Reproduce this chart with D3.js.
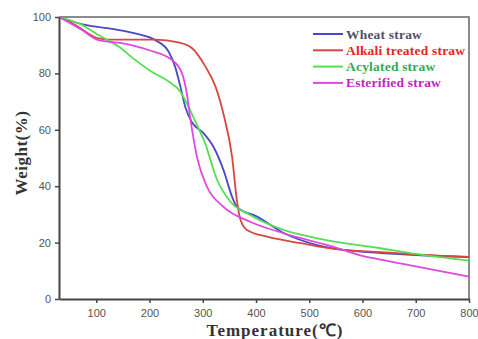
<!DOCTYPE html>
<html>
<head>
<meta charset="utf-8">
<script src="https://cdn.jsdelivr.net/npm/d3@7"></script>
<style>
  body { margin: 0; background: #fff; }
  svg { display: block; }
</style>
</head>
<body>
<div id="chart"></div>
<script>
var seriesNames = ["Wheat straw", "Alkali treated straw", "Acylated straw", "Esterified straw"];
var lineColors = ["#4a48c8", "#d8473f", "#52e052", "#e048e0"];
var textColors = ["#4f4f6f", "#ee2222", "#2faa55", "#c424c4"];

var xTicks = [100, 200, 300, 400, 500, 600, 700, 800];
var yTicks = [0, 20, 40, 60, 80, 100];

// [temperature, weight]
var wheat = [[30,100],[79,97.2],[130,95.8],[173,94.2],[211,91.8],[236,87.7],[248,82.4],[258,75.3],[267,68.2],
  [280,62.6],[301,58.9],[320,54],[339,45.7],[355,36.3],[364,32.7],[402,29.2],[452,23.4],[515,19.1],
  [596,16.8],[634,16.3],[700,15.6],[800,14.9]];
var alkali = [[30,100],[60,97.2],[104,92.4],[122,92],[211,92],[254,91],[280,88.9],[305,82.4],[324,75.3],
  [339,65.5],[355,50.5],[364,35.1],[371,28],[383,24.5],[421,22.1],[484,19.8],[553,17.6],[634,16.6],
  [700,15.8],[800,14.9]];
var acylated = [[30,100],[73,97.2],[104,93.6],[142,89.5],[173,84.8],[204,80.6],[236,77.1],[258,73.5],
  [273,68.2],[292,60.5],[302,56.4],[327,42.2],[352,34.5],[389,29.8],[452,24.5],[515,21.5],[634,18],
  [700,16],[800,13.6]];
var esterified = [[30,100],[73,95.4],[104,91.8],[148,90.7],[198,88.3],[242,84.8],[261,80],[270,72.9],
  [277,63.5],[289,50.5],[308,39.8],[339,32.7],[389,27.4],[452,23.3],[546,18.5],[596,15.5],[634,14],
  [700,11.6],[800,7.9]];
var series = [wheat, alkali, acylated, esterified];

var W = 478, H = 339;
var m = { left: 59, right: 9, top: 17, bottom: 40 };

var svg = d3.select("#chart").append("svg").attr("width", W).attr("height", H);

var x = d3.scaleLinear().domain([30, 800]).range([m.left, W - m.right]);
var y = d3.scaleLinear().domain([0, 100]).range([H - m.bottom, m.top]);

// frame (top and right)
svg.append("path")
  .attr("d", "M" + x(30) + "," + y(100) + "H" + x(800) + "V" + y(0))
  .attr("fill", "none").attr("stroke", "#666").attr("stroke-width", 1.5);

var line = d3.line().x(function(d) { return x(d[0]); }).y(function(d) { return y(d[1]); })
  .curve(d3.curveMonotoneX);

series.forEach(function(s, i) {
  svg.append("path").datum(s)
    .attr("d", line)
    .attr("fill", "none")
    .attr("stroke", lineColors[i])
    .attr("stroke-width", 1.8);
});

var xAxis = svg.append("g").attr("transform", "translate(0," + y(0) + ")")
  .call(d3.axisBottom(x).tickValues(xTicks).tickSize(4).tickSizeOuter(0).tickPadding(6));
var yAxis = svg.append("g").attr("transform", "translate(" + x(30) + ",0)")
  .call(d3.axisLeft(y).tickValues(yTicks).tickSize(4).tickSizeOuter(0).tickPadding(4));

[xAxis, yAxis].forEach(function(a) {
  a.select(".domain").attr("stroke", "#444").attr("stroke-width", 2);
  a.selectAll(".tick line").attr("stroke", "#444").attr("stroke-width", 1.5);
  a.selectAll(".tick text").attr("fill", "#555")
    .style("font-family", "Liberation Sans, Arial, sans-serif").style("font-size", "11px");
});

svg.append("text")
  .attr("x", 275).attr("y", 336)
  .attr("text-anchor", "middle")
  .style("font-family", "Liberation Serif, Times New Roman, serif")
  .style("font-weight", "bold").style("font-size", "17px")
  .style("letter-spacing", "1px")
  .attr("fill", "#333")
  .text("Temperature(℃)");

svg.append("text")
  .attr("transform", "translate(27,153) rotate(-90)")
  .attr("text-anchor", "middle")
  .style("font-family", "Liberation Serif, Times New Roman, serif")
  .style("font-weight", "bold").style("font-size", "17px")
  .style("letter-spacing", "0.5px")
  .attr("fill", "#333")
  .text("Weight(%)");

// legend
var legend = svg.append("g");
seriesNames.forEach(function(name, i) {
  var ly = 34 + i * 16.3;
  legend.append("line")
    .attr("x1", 313).attr("x2", 343).attr("y1", ly).attr("y2", ly)
    .attr("stroke", lineColors[i]).attr("stroke-width", 2);
  legend.append("text")
    .attr("x", 346).attr("y", ly + 4.5)
    .style("font-family", "Liberation Serif, Times New Roman, serif")
    .style("font-weight", "bold").style("font-size", "13.5px")
    .style("letter-spacing", "0.2px")
    .attr("fill", textColors[i])
    .text(name);
});
</script>
</body>
</html>
